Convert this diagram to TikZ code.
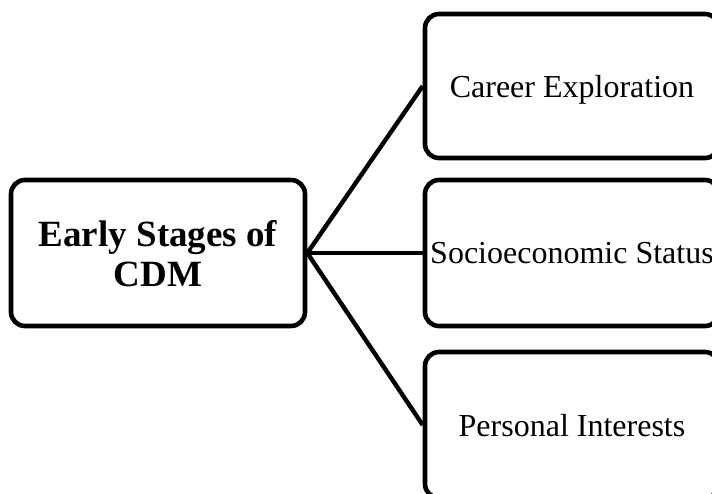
\documentclass[tikz,border=0pt]{standalone}
\usepackage{fontspec}
\setmainfont{Liberation Serif}
\begin{document}
\begin{tikzpicture}[x=1pt,y=-1pt,
  stagebox/.style={draw=black, line width=4.6pt, rounded corners=14pt,
    minimum width=294pt, inner sep=0pt, align=center, text depth=0pt},
  link/.style={line width=4.4pt}]
  \useasboundingbox (0,0) rectangle (712,494);
  % main topic on the left
  \node[stagebox, minimum height=146pt, font=\fontsize{37}{40}\selectfont\bfseries]
    (root) at (158,253) {Early Stages of\\CDM};
  % three factors on the right
  \node[stagebox, minimum height=144pt, font=\fontsize{32}{36}\selectfont]
    (career) at (572,86) {Career Exploration};
  \node[stagebox, minimum height=146pt, font=\fontsize{32}{36}\selectfont]
    (ses) at (572,253) {Socioeconomic Status};
  \node[stagebox, minimum height=146pt, font=\fontsize{32}{36}\selectfont]
    (interests) at (572,425) {Personal Interests};
  % connectors fanning out from the main topic
  \draw[link] (root.east) -- (career.west);
  \draw[link] (root.east) -- (ses.west);
  \draw[link] (root.east) -- (interests.west);
\end{tikzpicture}
\end{document}
